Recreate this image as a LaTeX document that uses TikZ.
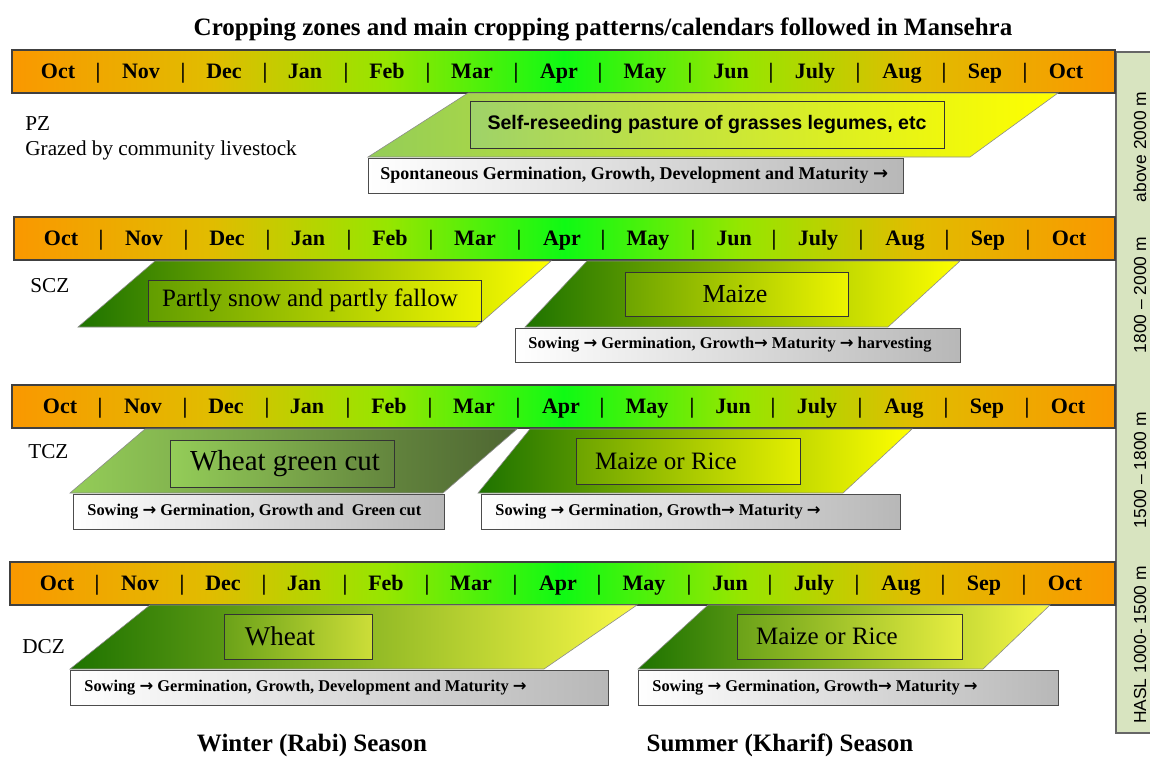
\documentclass[tikz,border=0pt]{standalone}
\usepackage{fontspec}
\setmainfont{Liberation Serif}
\setsansfont{Liberation Sans}
\newfontfamily\arrowfont{DejaVu Sans}

\definecolor{barorange}{RGB}{250,152,0}
\definecolor{bargold}{RGB}{225,188,0}
\definecolor{barlime}{RGB}{150,230,0}
\definecolor{bargreen}{RGB}{15,250,20}
\definecolor{cropdark}{RGB}{30,115,0}
\definecolor{cropyellow}{RGB}{255,255,0}
\definecolor{croplemon}{RGB}{248,248,70}
\definecolor{croplight}{RGB}{148,205,88}
\definecolor{cropolive}{RGB}{78,102,50}
\definecolor{haslgreen}{RGB}{216,228,192}

\pgfdeclarehorizontalshading{monthshade}{100bp}{color(0bp)=(barorange); color(25bp)=(barorange); color(34bp)=(bargold); color(42bp)=(barlime); color(50bp)=(bargreen); color(58bp)=(barlime); color(66bp)=(bargold); color(75bp)=(barorange); color(100bp)=(barorange)}

\newcommand{\stagearrow}{{\arrowfont\bfseries →}}

\tikzset{
  monthbar/.style={draw=black!75, line width=0.6pt, shade, shading=monthshade},
  month/.style={font=\bfseries\fontsize{11}{13}\selectfont, anchor=base, inner sep=0pt},
  zone/.style={font=\fontsize{10.6}{12}\selectfont, anchor=base west, inner sep=0pt},
  crop/.style={draw=black!45, line width=0.3pt},
  cropbox/.style={draw=black!80, line width=0.5pt},
  cropname/.style={font=\fontsize{12.5}{15}\selectfont, inner sep=0pt},
  stagebox/.style={draw=black!70, line width=0.5pt, left color=white, right color=black!28},
  stage/.style={font=\bfseries\fontsize{8.2}{10}\selectfont, anchor=west, inner sep=0pt},
  season/.style={font=\bfseries\fontsize{12.5}{14}\selectfont, anchor=base, inner sep=0pt},
  haslbar/.style={draw=black!60, line width=0.6pt, fill=haslgreen},
  hasl/.style={font=\sffamily\fontsize{8.7}{10}\selectfont, rotate=90, inner sep=0pt}
}

\begin{document}
\begin{tikzpicture}[x=0.5pt, y=-0.5pt]
\useasboundingbox (0,0) rectangle (1150,756);
\node[season] (title) at (603,35) {Cropping zones and main cropping patterns/calendars followed in Mansehra};

% altitude strip
\draw[haslbar] (1116,52) rectangle (1170,733);
\node[hasl] (haslpz) at (1140,147) {above 2000 m};
\node[hasl] (haslscz) at (1140,295) {1800 – 2000 m};
\node[hasl] (hasltcz) at (1140,470) {1500 – 1800 m};
\node[hasl] (hasldcz) at (1140,645) {HASL 1000- 1500 m};

% month bars
\foreach \yt/\xo/\xl/\z in {50/58/12/pz,217/61/14/scz,385/60/12/tcz,562/57/10/dcz}{
  \draw[monthbar] (\xl,\yt) rectangle (1115,\yt+43);
  \foreach \m/\dx [count=\i] in {Oct/0,Nov/83,Dec/166,Jan/247,Feb/329,Mar/414,Apr/501,May/587,Jun/673,July/757,Aug/844,Sep/927,Oct/1008}
    \node[month] (\z m\i) at (\xo+\dx,\yt+28) {\m};
  \foreach \dx [count=\i] in {40,125,207,288,370,458,542,632,713,800,886,967}
    \node[month] (\z s\i) at (\xo+\dx,\yt+28) {|};
}

% PZ
\node[zone] (pz) at (25,130) {PZ};
\node[zone] (pzuse) at (25,155) {Grazed by community livestock};
\shade[crop, left color=croplight, right color=cropyellow] (468,93) -- (1058,93) -- (970,157) -- (368,157) -- cycle;
\draw[cropbox, left color=croplight!90!white, right color=cropyellow!85!croplight] (470,101) rectangle (944,148);
\node[cropname, font=\sffamily\bfseries\fontsize{9.8}{12}\selectfont] (pzcrop) at (707,124.5) {Self-reseeding pasture of grasses legumes, etc};
\draw[stagebox] (368,158) rectangle (903,193);
\node[stage, font=\bfseries\fontsize{9}{10}\selectfont] (pzstage) at (380,175.5) {Spontaneous Germination, Growth, Development and Maturity \stagearrow};

% SCZ
\node[zone] (scz) at (30,292) {SCZ};
\shade[crop, left color=cropdark, right color=cropyellow] (155,261) -- (551,261) -- (476,327) -- (78,327) -- cycle;
\draw[cropbox, left color=cropdark!70!cropyellow, right color=cropyellow!92!cropdark] (148,280) rectangle (481,321);
\node[cropname] (sczwinter) at (310,300.5) {Partly snow and partly fallow};
\shade[crop, left color=cropdark, right color=cropyellow] (587,261) -- (960,261) -- (888,327) -- (525,327) -- cycle;
\draw[cropbox, left color=cropdark!65!cropyellow, right color=cropyellow!92!cropdark] (625,272) rectangle (848,316);
\node[cropname, font=\fontsize{13}{15}\selectfont] (sczsummer) at (735,294) {Maize};
\draw[stagebox] (515,328) rectangle (960,362);
\node[stage] (sczstage) at (528,345) {Sowing \stagearrow\ Germination, Growth\stagearrow\ Maturity \stagearrow\ harvesting};

% TCZ
\node[zone] (tcz) at (28,458) {TCZ};
\shade[crop, left color=croplight, right color=cropolive] (145,429) -- (517,429) -- (443,493) -- (70,493) -- cycle;
\draw[cropbox, left color=croplight, right color=cropolive!70!croplight] (170,440) rectangle (394,487);
\node[cropname, font=\fontsize{14.5}{16}\selectfont] (tczwinter) at (285,463.5) {Wheat green cut};
\shade[crop, left color=cropdark, right color=cropyellow] (530,429) -- (912,429) -- (843,493) -- (478,493) -- cycle;
\draw[cropbox, left color=cropdark!65!cropyellow, right color=cropyellow!88!cropdark] (576,438) rectangle (800,484);
\node[cropname] (tczsummer) at (666,461) {Maize or Rice};
\draw[stagebox] (73,494) rectangle (444,529);
\node[stage] (tczwstage) at (87,511.5) {Sowing \stagearrow\ Germination, Growth and\ \ Green cut};
\draw[stagebox] (481,494) rectangle (900,529);
\node[stage] (tczsstage) at (495,511.5) {Sowing \stagearrow\ Germination, Growth\stagearrow\ Maturity \stagearrow};

% DCZ
\node[zone] (dcz) at (22,653) {DCZ};
\shade[crop, left color=cropdark, right color=croplemon] (150,605) -- (637,605) -- (544,669) -- (70,669) -- cycle;
\draw[cropbox, left color=cropdark!65!croplemon, right color=croplemon!80!cropdark] (224,614) rectangle (372,659);
\node[cropname, font=\fontsize{13.5}{15}\selectfont] (dczwinter) at (280,636.5) {Wheat};
\shade[crop, left color=cropdark, right color=croplemon] (708,605) -- (1050,605) -- (983,669) -- (638,669) -- cycle;
\draw[cropbox, left color=cropdark!65!croplemon, right color=croplemon!92!cropdark] (737,614) rectangle (962,659);
\node[cropname] (dczsummer) at (827,636.5) {Maize or Rice};
\draw[stagebox] (70,670) rectangle (608,705);
\node[stage] (dczwstage) at (84,687.5) {Sowing \stagearrow\ Germination, Growth, Development and Maturity \stagearrow};
\draw[stagebox] (638,670) rectangle (1058,705);
\node[stage] (dczsstage) at (652,687.5) {Sowing \stagearrow\ Germination, Growth\stagearrow\ Maturity \stagearrow};

% seasons
\node[season] (winter) at (312,751) {Winter (Rabi) Season};
\node[season] (summer) at (780,751) {Summer (Kharif) Season};
\end{tikzpicture}
\end{document}
